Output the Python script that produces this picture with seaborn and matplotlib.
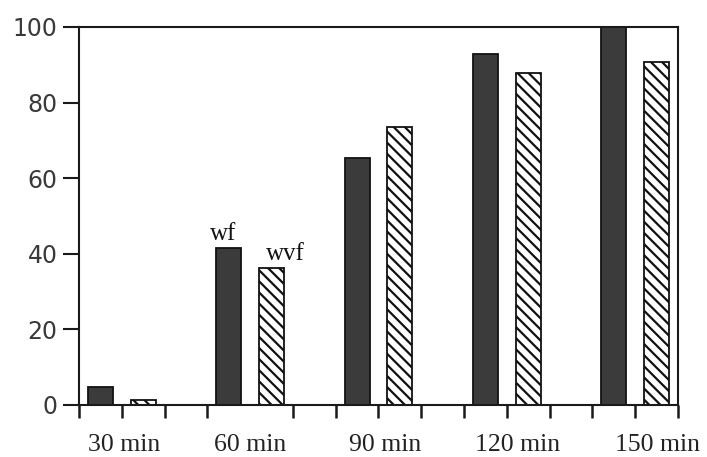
import pandas as pd
import matplotlib
matplotlib.use("Agg")
import matplotlib.pyplot as plt
import seaborn as sns

# Data
times = ["30 min", "60 min", "90 min", "120 min", "150 min"]
wf_values = [4.8, 41.5, 65.3, 92.8, 100.0]
wvf_values = [1.2, 36.3, 73.5, 87.8, 90.7]
series_names = ["wf", "wvf"]
y_ticks = [0, 20, 40, 60, 80, 100]

# Layout (group units: one category = 3 tick slots)
slot = 1 / 3
label_offsets = [0.02, 0.0, 0.05, 0.08, 0.17]

df = pd.DataFrame({
    "time": times * 2,
    "value": wf_values + wvf_values,
    "series": [series_names[0]] * len(times) + [series_names[1]] * len(times),
})

sns.set_style("white")
plt.rcParams["hatch.linewidth"] = 1.6

fig = plt.figure(figsize=(7.07, 4.57), dpi=100)
ax = fig.add_axes([0.1117, 0.1138, 0.8473, 0.8272])

sns.barplot(data=df, x="time", y="value", hue="series", order=times,
            hue_order=series_names, palette=["#3b3b3b", "white"],
            width=2 * slot, gap=0.42, edgecolor="#111111", linewidth=1.3,
            saturation=1, legend=False, ax=ax)

# hatch the wvf bars
for bar in ax.containers[1]:
    bar.set_hatch("\\\\\\")
    bar.set_facecolor("white")
    bar.set_edgecolor("#111111")

ax.set_ylim(0, 100)
ax.set_xlim(-slot, len(times) * 3 * slot - 2 * slot)
ax.set_xlabel("")
ax.set_ylabel("")

for side in ["left", "bottom", "top", "right"]:
    ax.spines[side].set_visible(True)
    ax.spines[side].set_color("#1a1a1a")
    ax.spines[side].set_linewidth(1.5)

# y axis
ax.set_yticks(y_ticks)
ax.set_yticklabels([str(v) for v in y_ticks], family="DejaVu Sans",
                   fontsize=17, color="#3a3a3a")
ax.tick_params(axis="y", direction="out", length=11.5, width=1.5,
               color="#1a1a1a", pad=4, left=True)

# x axis: tick marks on every slot, labels near group centres
n_slots = len(times) * 3 - 1
ax.set_xticks([-slot + i * slot for i in range(n_slots + 1)], minor=True)
ax.set_xticks([i + off for i, off in enumerate(label_offsets)])
ax.set_xticklabels(times, family="Liberation Serif", fontsize=18.5,
                   color="#222222")
ax.tick_params(axis="x", which="major", length=0, pad=21)
ax.tick_params(axis="x", which="minor", direction="out", length=9.5,
               width=1.8, color="#1a1a1a", bottom=True)

# series labels above the 60 min bars
for k, name in enumerate(series_names):
    bar = ax.containers[k][1]
    ax.annotate(name, (bar.get_x() + bar.get_width() / 2, bar.get_height()),
                xytext=(-4 if k == 0 else 10, 2), textcoords="offset points",
                ha="center", va="bottom", family="Liberation Serif",
                fontsize=18, color="#111111")

fig.savefig("out.png", dpi=100)
